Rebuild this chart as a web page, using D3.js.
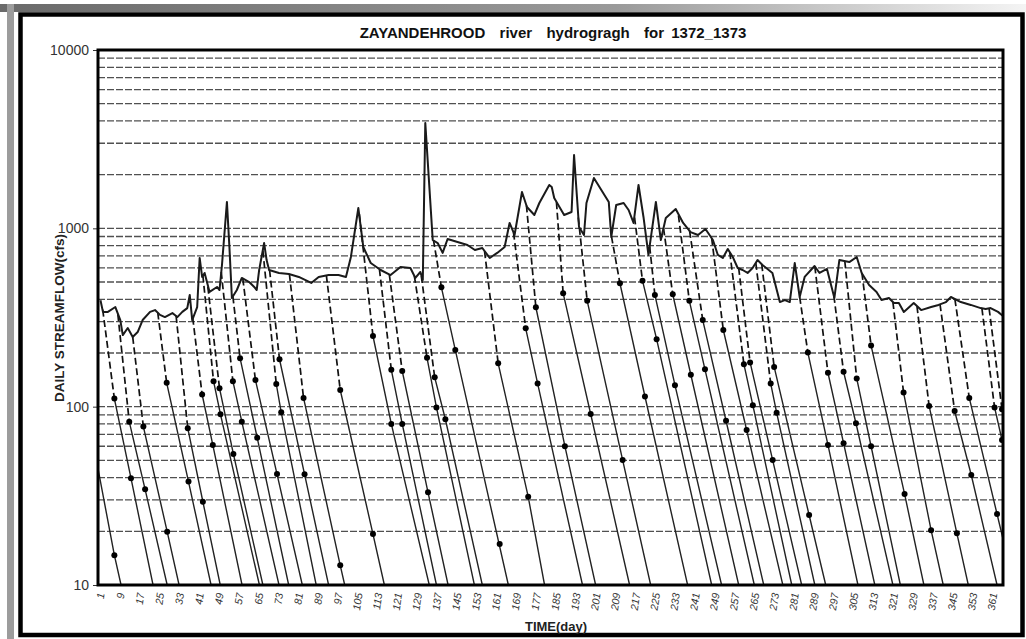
<!DOCTYPE html>
<html><head><meta charset="utf-8">
<script src="https://cdn.jsdelivr.net/npm/d3@7"></script>
<style>body{margin:0;background:#fff;}svg{display:block;}</style>
</head><body>
<svg id="chart" width="1026" height="639"></svg>
<script>
// ---- hydrograph (daily streamflow, cfs) ----
const days = [1,2,4,7,9,10,12,14,16,18,21,23,25,27,30,32,34,36,37,38,40,41,42,43,45,48,49,50,52,53,54,56,58,61,63,64,65,67,68,69,73,77,81,86,89,93,97,100,102,105,107,110,114,118,122,126,128,130,131,132,135,137,139,141,145,149,152,155,158,161,164,166,168,171,173,176,178,182,183,184,188,191,192,194,196,197,200,203,206,207,209,212,214,216,218,220,222,225,227,229,233,236,239,242,245,248,250,252,254,256,258,260,262,264,266,268,272,275,277,279,281,283,285,289,291,294,297,299,303,306,308,311,314,316,319,321,323,325,329,332,336,339,342,344,348,352,356,358,360,363,365];
const flows = [395,340,340,362,306,252,276,246,262,306,340,348,327,318,335,318,340,357,423,306,362,682,534,562,440,469,451,623,1406,786,407,451,527,500,469,451,584,827,664,584,562,555,534,494,534,547,547,534,691,1300,786,639,584,547,607,599,527,569,513,3900,860,827,728,871,838,806,756,776,682,728,786,1072,918,1599,1318,1188,1387,1750,1706,1479,1188,1235,2578,1018,918,1387,1916,1641,1406,894,1352,1387,1267,1072,1750,1158,709,1406,860,1143,1283,1072,953,918,991,860,709,682,766,691,599,584,562,599,664,623,562,386,396,386,639,412,534,615,562,592,407,664,647,691,562,481,440,396,407,381,381,340,381,348,362,372,386,412,386,372,357,353,357,340,322];

// ---- recession curves: dashed from start to break, solid through mid to the bottom ----
const recStartDay  = [0,1.9,8,14,24.1,31.5,38.2,42.3,44.3,49.7,54.4,58.4,66.5,69.2,77.2,92.1,105.4,113.5,117.5,127.6,130.4,135.3,155.9,167.6,172.8,184.9,193.7,207.1,216.4,222.5,228.1,234.1,238.6,247.5,254.8,258.4,265.3,267.7,283,289.1,296.8,301.2,308.1,320.6,330.3,339.6,345.6,356.5,359.4];
const recStartFlow = [45,350,330,246,337,323,315,545,470,570,415,523,750,583,554,545,1200,590,550,540,540,860,745,945,1345,1400,1150,900,1150,790,1000,1180,968,880,735,599,640,630,412,612,418,655,562,386,366,375,401,356,355];
const recBreakDay  = [0,6.6,12.6,18.3,27.7,36.2,42,46.6,49,54.4,57.3,63.5,71.9,73.2,82.9,97.7,110.9,118.3,122.7,132.7,135.8,138.5,161.4,172.5,176.6,187.6,197.3,210.5,219.6,224.6,231.8,238.5,243.9,252.2,260.5,263,271.3,272.7,286.3,294.4,300.7,306,311.8,324.9,335.2,345.5,351.4,361.6,364.6];
const recBreakFlow = [45,111,82.4,77.3,136,75.7,117,139,127,139,187,141,134,184.5,112,124,249,161,158.5,188,146,467,175,275,361,433,392,492,509,423,427,392,306,269,173,177,135,167,201,155,157,144,220,120,101,94.6,112,99,96.7];
const recMidDay    = [6.6,13.3,19,27.9,36.5,42.3,46.3,49.4,54.6,58,64.2,72.2,73.9,83.3,97.7,110.9,118.3,122.7,133.1,136.5,140.1,144.1,173.5,177.3,188.3,198.7,211.6,220.6,225.3,232.7,239.1,244.8,253.3,261.6,264.1,272.1,273.7,286.8,294.4,300.7,305.7,311.8,325.3,336,346.4,352.2,362.6,364.6,372];
const recMidFlow   = [14.7,39.7,34.4,19.9,38,29.3,61,90.6,54.3,82.4,67,41.9,93,41.8,12.9,19.3,80,80,33.1,99,85,208,31.3,135,60,91,50.2,114,239,132,151,162,83.4,74,102,50.2,92.5,24.7,61,62.4,80.7,60,32.4,20.3,19.5,41.4,25,65,34];
const recEndDay    = [9.3,22.2,27.9,32.7,45.6,49.3,58.1,65.1,66.5,73,76.9,82.4,88,93,99.5,115.5,133.6,136.5,141.2,151.8,155,165.5,180.1,195.4,200.7,214.4,222.9,237.8,247.5,251.5,258.4,264.7,268.5,276.2,279.8,283.8,289.1,293.5,306.5,313.3,320.6,323.6,333.1,340.9,351,362.6,369.4,377.5,380];
const extraDotDay  = [162];
const extraDotFlow = [17];

// ---- ticks ----
const xTickDays = [1,9,17,25,33,41,49,57,65,73,81,89,97,105,113,121,129,137,145,153,161,169,177,185,193,201,209,217,225,233,241,249,257,265,273,281,289,297,305,313,321,329,337,345,353,361];
const yTickValues = [10,100,1000,10000];

const titleText = "ZAYANDEHROOD  river  hydrogragh  for 1372_1373";
const yTitle = "DAILY STREAMFLOW(cfs)";
const xTitle = "TIME(day)";

// ---- layout ----
const plotL = 98, plotR = 1003, plotT = 50, plotB = 585;
const x = d3.scaleLinear().domain([0, 365]).range([plotL, plotR]);
const y = d3.scaleLog().domain([10, 10000]).range([plotB, plotT]);
const svg = d3.select("#chart");
const FONT = "'Liberation Sans', Arial, sans-serif";

// page decorations (scanned page edges)
const defs = svg.append("defs");
const tg = defs.append("linearGradient").attr("id", "topg").attr("x1", "0").attr("x2", "1").attr("y1", "0").attr("y2", "0");
tg.append("stop").attr("offset", "0").attr("stop-color", "#6a6a6a");
tg.append("stop").attr("offset", "0.6").attr("stop-color", "#9a9a9a");
tg.append("stop").attr("offset", "1").attr("stop-color", "#f4f4f4");
defs.append("clipPath").attr("id", "plotclip").append("rect")
  .attr("x", plotL).attr("y", plotT).attr("width", plotR - plotL).attr("height", plotB - plotT);

svg.append("rect").attr("x", 0).attr("y", 4).attr("width", 1026).attr("height", 8).attr("fill", "url(#topg)");
svg.append("rect").attr("x", 7).attr("y", 4).attr("width", 7).attr("height", 635).attr("fill", "#9c9c9c");
svg.append("rect").attr("x", 20.5).attr("y", 14.5).attr("width", 1002).attr("height", 620.5)
  .attr("fill", "none").attr("stroke", "#000").attr("stroke-width", 4.5);

// grid lines
const gridVals = y.ticks().filter(v => v > 10 && v < 10000);
svg.append("g").selectAll("line").data(gridVals).join("line")
  .attr("x1", plotL).attr("x2", plotR)
  .attr("y1", d => y(d)).attr("y2", d => y(d))
  .attr("stroke", "#505050").attr("stroke-width", 1.3).attr("stroke-dasharray", "7,2");

// y axis
const yAxis = svg.append("g").attr("transform", `translate(${plotL},0)`)
  .call(d3.axisLeft(y).tickValues(yTickValues).tickFormat(d3.format("d")).tickSize(5).tickPadding(4));
yAxis.select(".domain").remove();
yAxis.selectAll("line").attr("stroke", "#333");
yAxis.selectAll("text").attr("font-family", FONT).attr("font-size", 14).attr("fill", "#333");

// x axis labels
const xAxis = svg.append("g").attr("transform", `translate(0,${plotB})`)
  .call(d3.axisBottom(x).tickValues(xTickDays).tickSize(0));
xAxis.select(".domain").remove();
xAxis.selectAll("text")
  .attr("font-family", FONT).attr("font-size", 10.5).attr("font-style", "italic").attr("fill", "#333")
  .attr("x", 0).attr("y", 0).attr("dy", "0.35em")
  .attr("text-anchor", "end")
  .attr("transform", "translate(0,8) rotate(-82)");

// recession curves
const gRec = svg.append("g").attr("clip-path", "url(#plotclip)");
const line = d3.line().x(d => x(d[0])).y(d => y(d[1]));
const ymin = y.domain()[0];
recStartDay.forEach((sd, i) => {
  if (recBreakDay[i] > sd) {
    gRec.append("path")
      .attr("d", line([[sd, recStartFlow[i]], [recBreakDay[i], recBreakFlow[i]]]))
      .attr("fill", "none").attr("stroke", "#111").attr("stroke-width", 1.7).attr("stroke-dasharray", "7,3.5");
  }
  gRec.append("path")
    .attr("d", line([[recBreakDay[i], recBreakFlow[i]], [recMidDay[i], recMidFlow[i]], [recEndDay[i], ymin]]))
    .attr("fill", "none").attr("stroke", "#222").attr("stroke-width", 1.4);
});
// dots
const dotData = [];
recStartDay.forEach((sd, i) => {
  if (recBreakDay[i] > sd) dotData.push([recBreakDay[i], recBreakFlow[i]]);
  dotData.push([recMidDay[i], recMidFlow[i]]);
});
extraDotDay.forEach((d, i) => dotData.push([d, extraDotFlow[i]]));
gRec.selectAll("circle").data(dotData).join("circle")
  .attr("cx", d => x(d[0])).attr("cy", d => y(d[1])).attr("r", 3).attr("fill", "#000");

// hydrograph
const hydro = days.map((d, i) => [d, flows[i]]);
svg.append("path").attr("d", line(hydro)).attr("clip-path", "url(#plotclip)")
  .attr("fill", "none").attr("stroke", "#1a1a1a").attr("stroke-width", 2).attr("stroke-linejoin", "round");

// plot border
svg.append("rect").attr("x", plotL).attr("y", plotT).attr("width", plotR - plotL).attr("height", plotB - plotT)
  .attr("fill", "none").attr("stroke", "#000").attr("stroke-width", 3);

// titles
svg.append("text").attr("x", 553).attr("y", 38).attr("text-anchor", "middle")
  .attr("font-family", FONT).attr("font-weight", "bold").attr("font-size", 15).attr("fill", "#111")
  .attr("word-spacing", 3).style("white-space", "pre").text(titleText);
svg.append("text").attr("transform", "translate(64,318) rotate(-90)").attr("text-anchor", "middle")
  .attr("font-family", FONT).attr("font-weight", "bold").attr("font-size", 13.5).attr("fill", "#222").text(yTitle);
svg.append("text").attr("x", 556).attr("y", 631).attr("text-anchor", "middle")
  .attr("font-family", FONT).attr("font-weight", "bold").attr("font-size", 13).attr("fill", "#222").text(xTitle);
</script>
</body></html>
